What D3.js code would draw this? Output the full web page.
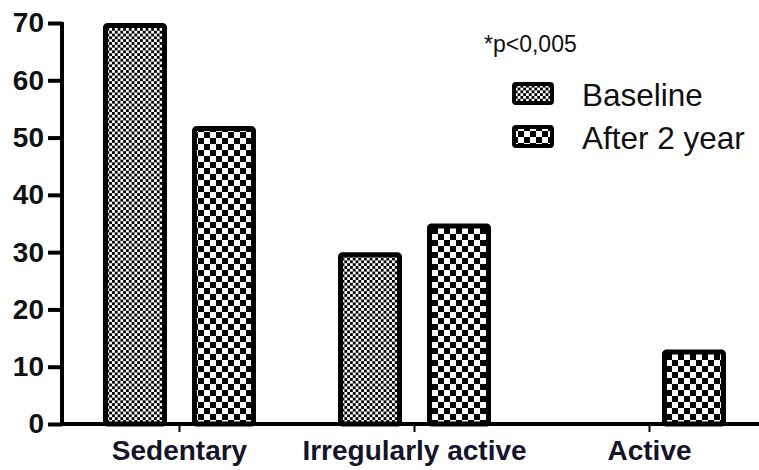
<!DOCTYPE html>
<html>
<head>
<meta charset="utf-8">
<script src="https://cdn.jsdelivr.net/npm/d3@7"></script>
<style>
  body { margin: 0; background: #fff; }
  svg { display: block; font-family: "Liberation Sans", Arial, sans-serif; }
</style>
</head>
<body>
<div class="chart"></div>
<script>
const categories = ["Sedentary", "Irregularly active", "Active"];
const series = ["Baseline", "After 2 year"];
const baseline = [70, 30, 0];
const after2year = [52, 35, 13];
const yTicks = [0, 10, 20, 30, 40, 50, 60, 70];
const note = "*p<0,005";

const width = 759;
const height = 470;

const svg = d3
  .select(".chart")
  .append("svg")
  .attr("width", width)
  .attr("height", height);

// checker patterns for the two series
const defs = svg.append("defs");
function checker(id, size) {
  const p = defs
    .append("pattern")
    .attr("id", id)
    .attr("patternUnits", "userSpaceOnUse")
    .attr("width", size * 2)
    .attr("height", size * 2);
  p.append("rect").attr("width", size * 2).attr("height", size * 2).attr("fill", "#fff");
  p.append("rect").attr("width", size).attr("height", size).attr("fill", "#000");
  p.append("rect").attr("x", size).attr("y", size).attr("width", size).attr("height", size).attr("fill", "#000");
}
checker("fine", 2.8);
checker("coarse", 6);
const fills = ["url(#fine)", "url(#coarse)"];

const x0 = d3.scaleBand().domain(categories).range([62, 767]);
const x1 = d3.scaleBand().domain(series).range([41, 194]).paddingInner(0.281);
const y = d3.scaleLinear().domain([0, 70]).range([424, 23]);

const rows = categories.map((c, i) => ({
  cat: c,
  vals: [baseline[i], after2year[i]],
}));

const sw = 5;
const g = svg.append("g");
rows.forEach((r) => {
  r.vals.forEach((v, j) => {
    if (v <= 0) return;
    g.append("rect")
      .attr("x", x0(r.cat) + x1(series[j]) + sw / 2)
      .attr("y", y(v) + sw / 2)
      .attr("width", x1.bandwidth() - sw)
      .attr("height", y(0) - y(v) - sw / 2)
      .attr("rx", 2)
      .attr("fill", fills[j])
      .attr("stroke", "#000")
      .attr("stroke-width", sw);
  });
});

// y axis
const yAxis = svg
  .append("g")
  .attr("transform", "translate(62,0)")
  .call(d3.axisLeft(y).tickValues(yTicks).tickSize(14).tickPadding(4).tickSizeOuter(0));
yAxis.select(".domain").attr("stroke-width", 4).attr("d", `M0,${y(70) - 1}V${y(0) + 2}`);
yAxis.selectAll(".tick line").attr("stroke-width", 4);
yAxis
  .selectAll(".tick text")
  .attr("font-size", 28)
  .attr("font-weight", "bold")
  .attr("font-family", "Liberation Sans, Arial, sans-serif")
  .attr("fill", "#111");

// x axis
const xAxis = svg
  .append("g")
  .attr("transform", `translate(0,${y(0)})`)
  .call(d3.axisBottom(x0).tickSize(8).tickPadding(8).tickSizeOuter(0));
xAxis.select(".domain").attr("stroke-width", 4).attr("d", `M60,0H${width}`);
xAxis.selectAll(".tick line").attr("stroke-width", 2);
xAxis
  .selectAll(".tick text")
  .attr("font-size", 28)
  .attr("font-weight", "bold")
  .attr("font-family", "Liberation Sans, Arial, sans-serif")
  .attr("fill", "#15152a");

// note + legend
svg.append("text")
  .attr("x", 484)
  .attr("y", 52)
  .attr("font-size", 23)
  .attr("fill", "#111")
  .text(note);

const legend = svg
  .selectAll(".legend")
  .data(series)
  .enter()
  .append("g")
  .attr("transform", (d, i) => `translate(512,${82 + i * 43})`);
legend
  .append("rect")
  .attr("x", 2)
  .attr("y", 2)
  .attr("width", 38)
  .attr("height", 19)
  .attr("rx", 2)
  .attr("fill", (d, i) => fills[i])
  .attr("stroke", "#000")
  .attr("stroke-width", 4);
legend
  .append("text")
  .attr("x", 70)
  .attr("y", 24)
  .attr("font-size", 31.5)
  .attr("fill", "#111")
  .text((d) => d);
</script>
</body>
</html>
